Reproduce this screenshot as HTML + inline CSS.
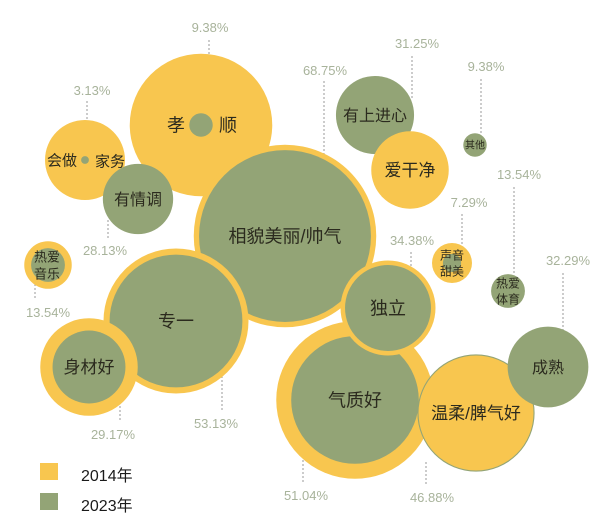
<!DOCTYPE html>
<html><head><meta charset="utf-8"><style>
body{margin:0;background:#fff;}
svg{display:block;font-family:"Liberation Sans","Noto Sans CJK SC",sans-serif;}
</style></head><body>
<svg id="chart" width="600" height="519" viewBox="0 0 600 519"></svg>
<script>
const names = ["孝顺","会做家务","有情调","热爱音乐","有上进心","爱干净","其他","相貌美丽/帅气","专一","身材好","声音甜美","热爱体育","气质好","独立","温柔/脾气好","成熟"];
const v2014 = [57, 32, 20, 19, 0, 31, 0, 73, 58, 39, 16, 0, 63, 38, 46, 0];
const v2023 = [9.38, 3.13, 28.13, 13.54, 31.25, 0, 9.38, 68.75, 53.13, 29.17, 7.29, 13.54, 51.04, 34.38, 46.88, 32.29];
const pctLabels = ["9.38%","3.13%","28.13%","13.54%","31.25%","","9.38%","68.75%","53.13%","29.17%","7.29%","13.54%","51.04%","34.38%","46.88%","32.29%"];
// layout (not data)
const centers = [[201,125],[85,160],[138,199],[48,265],[375,115],[410,170],[475,145],[285,236],[176,321],[89,367],[452,263],[508,291],[355,400],[388,308],[476,413],[548,367]];
const greenFirst = [0,0,0,0,0,0,0,0,0,0,0,0,0,0,1,0];
const fontSizes = [18,15,16,13,16,17,10,18,18,17,12,12,18,18,17,16];
const leaders = [[210,27,209,40,118],[92,90,87,101,158],[105,250,108,220,238],[48,312,35,280,300],[417,43,412,56,100],[0,0,0,0,0],[486,66,481,79,133],[325,70,324,81,160],[216,423,222,368,410],[113,434,120,402,422],[469,202,462,214,246],[519,174,514,187,274],[306,495,303,440,482],[412,240,411,252,268],[432,497,426,462,484],[568,260,563,273,330]];
const K = 1.25;
const rScale = v => v * K;
const YEL = "#F8C64F", GRN = "#93A476";
const svg = document.getElementById('chart');
const NS = "http://www.w3.org/2000/svg";
function mk(tag, attrs){const e=document.createElementNS(NS,tag);for(const k in attrs)e.setAttribute(k,attrs[k]);return e;}

// leader lines + labels
for(let i=0;i<names.length;i++){
  if(!pctLabels[i]) continue;
  const L = leaders[i];
  const ln = mk('line',{x1:L[2],y1:L[3],x2:L[2],y2:L[4],stroke:'#9a9a9a','stroke-width':1,'stroke-dasharray':'2,2'});
  
  
  svg.appendChild(ln);
  const t = mk('text',{x:L[0],y:L[1]+5,'text-anchor':'middle','font-size':13,fill:'#a8b39b'});
  t.textContent = v2023[i].toFixed(2)+'%';
  
  
  svg.appendChild(t);
}
// bubbles
for(let i=0;i<names.length;i++){
  const [cx,cy]=centers[i];
  const g = mk('g',{});
  
  
  const y = mk('circle',{cx,cy,r:rScale(v2014[i]),fill:YEL});
  
  
  const gr = mk('circle',{cx,cy,r:rScale(v2023[i]),fill:GRN});
  
  
  if(greenFirst[i]){g.appendChild(gr);g.appendChild(y);}else{g.appendChild(y);g.appendChild(gr);}
  svg.appendChild(g);
}
// bubble text
const textSpecs = {0:[["孝",176,125],["顺",228,125]],1:[["会做",62,160],["家务",110,161]],3:[["热爱",47,257],["音乐",47,274]],10:[["声音",452,255],["甜美",452,271]],11:[["热爱",508,283],["体育",508,299]]};
for(let i=0;i<names.length;i++){
  const parts = textSpecs[i] || [[names[i],centers[i][0],centers[i][1]]];
  for(const p of parts){
    const t = mk('text',{x:p[1],y:p[2]+fontSizes[i]*0.36,'text-anchor':'middle','font-size':fontSizes[i],fill:'#2b2a1e'});
    t.textContent=p[0];
    
    
    svg.appendChild(t);
  }
}
// legend
const legendYears = ["2014年","2023年"];
const legendColors=[YEL,GRN];
for(let i=0;i<2;i++){
  const r = mk('rect',{x:40,y:463+i*30,width:18,height:17,fill:legendColors[i]});
  
  
  svg.appendChild(r);
  const t = mk('text',{x:81,y:481+i*30,'font-size':16,fill:'#1a1a1a'});
  t.textContent=legendYears[i];
  
  
  svg.appendChild(t);
}
</script>
</body></html>
